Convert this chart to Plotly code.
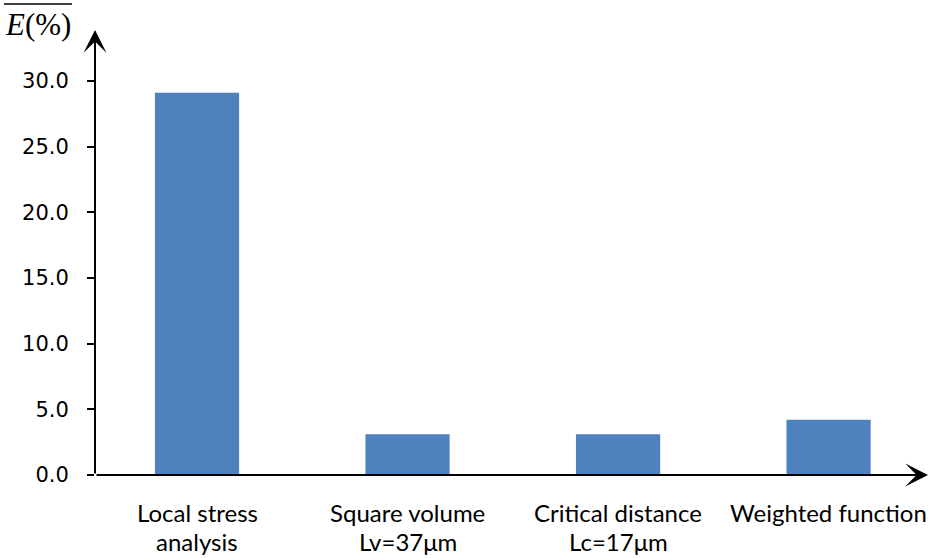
import plotly.graph_objects as go

categories = ["Local stress analysis", "Square volume Lv=37μm", "Critical distance Lc=17μm", "Weighted function"]
label_line1 = ["Local stress", "Square volume", "Critical distance", "Weighted function"]
label_line2 = ["analysis", "Lv=37μm", "Lc=17μm", ""]
values = [29.1, 3.1, 3.1, 4.2]
y_ticks = [0, 5, 10, 15, 20, 25, 30]

W, H = 929, 558
L, R, T, B = 95, 0, 30, 83
pw, ph = W - L - R, H - T - B

def px(x):
    return (x - L) / pw

def py(y):
    return (H - B - y) / ph

xs = list(range(len(categories)))
fig = go.Figure(go.Bar(x=xs, y=values, width=0.4, marker=dict(color="#4F81BD", line=dict(width=0)),
                       hovertext=categories))

annotations = []
lab_font = dict(family="Lato", size=24, color="#000")
for i, (a, b) in enumerate(zip(label_line1, label_line2)):
    annotations.append(dict(x=i, xref="x", y=py(512), yref="paper", text=a, showarrow=False,
                            font=lab_font, yanchor="middle"))
    if b:
        annotations.append(dict(x=i, xref="x", y=py(541), yref="paper", text=b, showarrow=False,
                                font=lab_font, yanchor="middle"))

# axis arrows
annotations.append(dict(x=1.0, y=0, xref="paper", yref="paper", ax=-pw, ay=0, text="",
                        showarrow=True, arrowhead=3, arrowsize=1.9, arrowwidth=2, arrowcolor="#000", standoff=0))
annotations.append(dict(x=0, y=1.0, xref="paper", yref="paper", ax=0, ay=ph, text="",
                        showarrow=True, arrowhead=3, arrowsize=1.9, arrowwidth=2, arrowcolor="#000", standoff=0))
# y title
annotations.append(dict(x=px(3), y=py(24), xref="paper", yref="paper", text="<i>E</i>(%)", showarrow=False,
                        xanchor="left", yanchor="middle",
                        font=dict(family="Liberation Serif", size=31, color="#000")))

shapes = [dict(type="line", xref="paper", yref="paper", x0=px(4), x1=px(72), y0=py(4), y1=py(4),
               line=dict(color="#000", width=1.5))]

fig.update_layout(
    width=W, height=H, margin=dict(l=L, r=R, t=T, b=B),
    paper_bgcolor="white", plot_bgcolor="white", showlegend=False,
    annotations=annotations, shapes=shapes,
    xaxis=dict(range=[-0.4846, 3.477], showticklabels=False, showgrid=False, zeroline=False, showline=False,
               ticks=""),
    yaxis=dict(range=[0, (H - B - T) / ((475 - 81) / 30)], tickvals=y_ticks, tickformat=".1f",
               showgrid=False, zeroline=False, showline=False, ticks="outside", ticklen=7, tickwidth=1.5,
               tickcolor="#000", ticklabelstandoff=14,
               tickfont=dict(family="DejaVu Sans", size=21, color="#000")),
)

fig.write_html("out.html", config={"displayModeBar": False},
               post_script="document.body.style.margin='0';document.body.style.overflow='hidden';")
